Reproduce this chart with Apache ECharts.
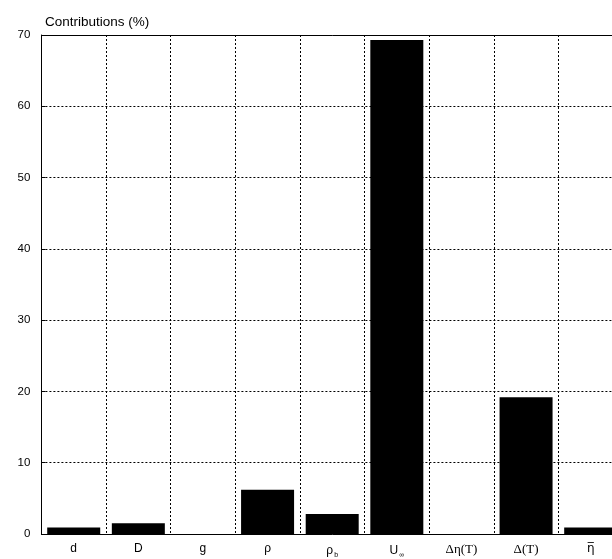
<!DOCTYPE html>
<html>
<head>
<meta charset="utf-8">
<script src="https://cdn.jsdelivr.net/npm/echarts@6/dist/echarts.min.js"></script>
<style>
html,body{margin:0;padding:0;background:#fff;overflow:hidden;}
#c{width:623px;height:559px;}
</style>
</head>
<body>
<div id="c"></div>
<script>
const categories = ['d', 'D', 'g', 'rho', 'rhob', 'Uinf', 'deta', 'delta', 'etabar'];
const contributions = [0.9, 1.5, 0, 6.2, 2.8, 69.3, 0, 19.2, 0.9];
const yTicks = [0, 10, 20, 30, 40, 50, 60, 70];

const labelMap = {
  d: '{s|d}',
  D: '{s|D}',
  g: '{s|g}',
  rho: '{s|ρ}',
  rhob: '{s|ρ}{sub|b}',
  Uinf: '{s|U}{sub|∞}',
  deta: '{t|Δη(T)}',
  delta: '{t|Δ(T)}',
  etabar: '{e|η\u0305}'
};

const chart = echarts.init(document.getElementById('c'), null, {renderer: 'canvas'});
chart.setOption({
  animation: false,
  backgroundColor: '#fff',
  title: {
    text: 'Contributions (%)',
    left: 40, top: 10,
    textStyle: {fontFamily: 'Liberation Sans', fontSize: 13.5, fontWeight: 'normal', color: '#000'}
  },
  grid: {left: 41.4, right: 0, top: 35, bottom: 25, containLabel: false},
  xAxis: [{
    type: 'category',
    data: categories,
    position: 'bottom',
    axisLine: {show: true, lineStyle: {color: '#000', width: 1}},
    axisTick: {show: false},
    splitLine: {show: true, lineStyle: {color: '#000', type: [2, 2], width: 1}},
    axisLabel: {
      margin: 9,
      interval: 0,
      formatter: v => labelMap[v],
      rich: {
        s: {fontFamily: 'Liberation Sans', fontSize: 12, color: '#000'},
        e: {fontFamily: 'DejaVu Sans', fontSize: 12, color: '#000'},
        t: {fontFamily: 'Liberation Serif', fontSize: 13, color: '#000'},
        sub: {fontFamily: 'Liberation Sans', fontSize: 7, color: '#000', padding: [9, 0, 0, 1]}
      }
    }
  }, {
    type: 'category',
    data: categories,
    position: 'top',
    axisLine: {show: true, lineStyle: {color: '#000', width: 1}},
    axisTick: {show: false},
    axisLabel: {show: false},
    splitLine: {show: false}
  }],
  yAxis: {
    type: 'value',
    min: 0, max: 70, interval: 10,
    axisLine: {show: true, lineStyle: {color: '#000', width: 1}},
    axisTick: {show: true, inside: true, length: 4, lineStyle: {color: '#000'}},
    splitLine: {show: true, lineStyle: {color: '#000', type: [2, 2], width: 1}},
    axisLabel: {
      margin: 11,
      fontFamily: 'Liberation Sans', fontSize: 11.5, color: '#000',
      formatter: v => (yTicks.indexOf(v) >= 0 ? String(v) : '')
    }
  },
  series: [{
    type: 'bar',
    data: contributions,
    xAxisIndex: 0,
    barWidth: 53,
    itemStyle: {color: '#000'},
    silent: true
  }]
});
</script>
</body>
</html>
